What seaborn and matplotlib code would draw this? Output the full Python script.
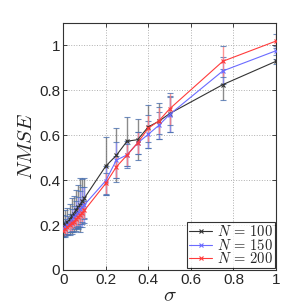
import numpy as np
import pandas as pd
import matplotlib
matplotlib.use('Agg')
import matplotlib.pyplot as plt
import seaborn as sns

# DATA
sigma = [0.0, 0.01, 0.02, 0.03, 0.04, 0.05, 0.06, 0.07, 0.08, 0.09, 0.10,
         0.20, 0.25, 0.30, 0.35, 0.40, 0.45, 0.50, 0.75, 1.00]

nmse_100 = [0.195, 0.205, 0.215, 0.225, 0.24, 0.25, 0.265, 0.28, 0.29, 0.305, 0.32,
            0.462, 0.51, 0.573, 0.58, 0.637, 0.662, 0.696, 0.825, 0.929]
err_100 = [0.05, 0.06, 0.06, 0.07, 0.08, 0.08, 0.09, 0.10, 0.12, 0.10, 0.09,
           0.13, 0.12, 0.11, 0.09, 0.096, 0.08, 0.08, 0.07, 0.012]

nmse_150 = [0.185, 0.19, 0.20, 0.21, 0.22, 0.235, 0.245, 0.255, 0.27, 0.28, 0.29,
            0.397, 0.489, 0.512, 0.565, 0.604, 0.644, 0.692, 0.886, 0.976]
err_150 = [0.03, 0.035, 0.04, 0.04, 0.05, 0.05, 0.06, 0.07, 0.08, 0.09, 0.08,
           0.065, 0.08, 0.06, 0.05, 0.06, 0.06, 0.08, 0.06, 0.02]

nmse_200 = [0.175, 0.18, 0.19, 0.20, 0.21, 0.215, 0.225, 0.235, 0.245, 0.255, 0.265,
            0.385, 0.459, 0.511, 0.566, 0.631, 0.664, 0.717, 0.929, 1.019]
err_200 = [0.025, 0.03, 0.03, 0.03, 0.035, 0.035, 0.035, 0.04, 0.04, 0.04, 0.04,
           0.048, 0.05, 0.05, 0.05, 0.06, 0.06, 0.07, 0.07, 0.03]

labels = ['$N\\,=\\,100$', '$N\\,=\\,150$', '$N\\,=\\,200$']
line_colors = ['#333333', '#6b6bff', '#ff3b3b']
bar_colors = ['#6e6e6e', '#8c8cff', '#ff7a7a']

# CONFIGURATION
sns.set_theme(style="ticks")
plt.rcParams['font.family'] = ['Liberation Sans', 'DejaVu Sans']
plt.rcParams['mathtext.fontset'] = 'cm'

df = pd.DataFrame({
    'sigma': sigma * 3,
    'nmse': nmse_100 + nmse_150 + nmse_200,
    'err': err_100 + err_150 + err_200,
    'N': [labels[0]] * len(sigma) + [labels[1]] * len(sigma) + [labels[2]] * len(sigma),
})

fig = plt.figure(figsize=(3.05, 3.05), dpi=100)
ax = fig.add_axes([0.207, 0.115, 0.698, 0.81])

# error bars first, then the lines on top
for lab, bc in zip(labels, bar_colors):
    sub = df[df['N'] == lab]
    ax.errorbar(sub['sigma'], sub['nmse'], yerr=sub['err'], fmt='none',
                ecolor=bc, elinewidth=1.0, capsize=2.0, capthick=0.8, alpha=0.8, zorder=2)

sns.lineplot(data=df, x='sigma', y='nmse', hue='N', palette=line_colors,
             marker='x', markersize=3, linewidth=0.8,
             ax=ax, zorder=3, legend=True)
# seaborn paints marker edges white; give them the line colour again
for ln in ax.get_lines():
    ln.set_markeredgecolor(ln.get_color())
    ln.set_markeredgewidth(0.8)

ax.set_xlim(0, 1)
ax.set_ylim(0, 1.1)
ax.set_xticks([0, 0.2, 0.4, 0.6, 0.8, 1])
ax.set_xticklabels(['0', '0.2', '0.4', '0.6', '0.8', '1'])
ax.set_yticks([0, 0.2, 0.4, 0.6, 0.8, 1])
ax.set_yticklabels(['0', '0.2', '0.4', '0.6', '0.8', '1'])
ax.tick_params(direction='in', length=3, width=0.6, labelsize=11, top=True, right=True, pad=2)
ax.grid(True, linestyle=':', linewidth=0.7, color='#b0b0b0')
for s in ax.spines.values():
    s.set_linewidth(0.8)
    s.set_color('#333333')

ax.set_xlabel('$\\sigma$', fontsize=15, labelpad=0)
ax.set_ylabel('$NMSE$', fontsize=15, labelpad=2)

leg = ax.legend(loc='lower right', fontsize=10.5, frameon=True, fancybox=False,
                edgecolor='black', borderpad=0.15, labelspacing=-0.1, handlelength=1.6,
                handletextpad=0.3, borderaxespad=0.1)
leg.get_frame().set_linewidth(0.8)
for h in leg.legend_handles:
    h.set_markeredgecolor(h.get_color())
    h.set_markeredgewidth(0.8)

fig.savefig('out.png', dpi=100)
